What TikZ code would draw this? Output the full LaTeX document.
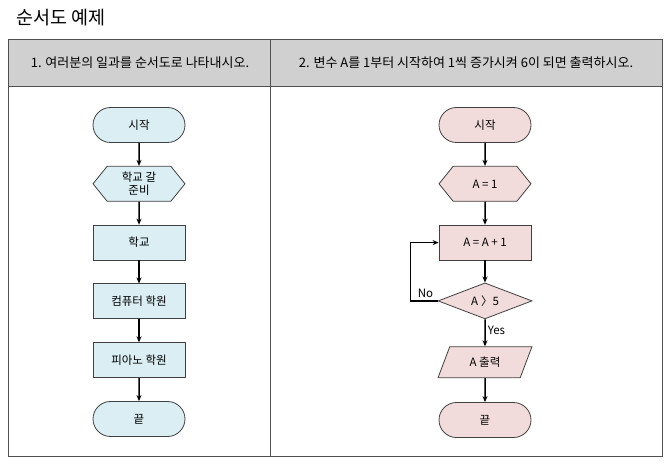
\documentclass[tikz,border=0pt]{standalone}
\usepackage{fontspec}
\setmainfont{Noto Sans CJK KR}
\usetikzlibrary{positioning,shapes.geometric,shapes.misc,shapes.symbols,arrows.meta}

\definecolor{bluefill}{HTML}{DAEEF3}
\definecolor{pinkfill}{HTML}{F2DCDB}
\definecolor{headgray}{HTML}{D0D0D0}
\definecolor{gridline}{HTML}{505050}
\definecolor{shapeline}{HTML}{404040}

\tikzset{
  box/.style={draw=shapeline, line width=0.8pt, inner sep=0pt, align=center,
    font=\fontsize{11.5}{13.5}\selectfont, minimum width=92pt, minimum height=35pt},
  term/.style={box, rounded rectangle},
  prep/.style={box, signal, signal to=east and west, signal pointer angle=102},
  proc/.style={box, rectangle},
  decis/.style={box, diamond, aspect=2.6, minimum width=94pt, minimum height=36pt},
  io/.style={box, trapezium, trapezium left angle=64, trapezium right angle=116,
    trapezium stretches=true, minimum width=94pt, minimum height=31pt},
  arr/.style={-{Stealth[length=6pt,width=5pt]}, line width=1.5pt},
  lbl/.style={font=\fontsize{11.5}{13.5}\selectfont, inner sep=2pt},
  headlbl/.style={font=\fontsize{13}{15}\selectfont, inner sep=0pt}
}

\begin{document}
\begin{tikzpicture}[x=1pt, y=-1pt, node distance=23pt]
    \useasboundingbox (0,0) rectangle (670,465);

    % title and table
    \node[anchor=west, font=\fontsize{18.5}{20}\selectfont, inner sep=0pt] (title) at (16,18) {순서도 예제};
    \fill[headgray] (8,40) rectangle (662,87);
    \draw[gridline, line width=1pt] (8,40) rectangle (662,456);
    \draw[gridline, line width=1pt] (8,87) -- (662,87);
    \draw[gridline, line width=1pt] (270,40) -- (270,456);
    \node[headlbl] (head1) at (140,63) {1. 여러분의 일과를 순서도로 나타내시오.};
    \node[headlbl] (head2) at (466,63) {2. 변수 A를 1부터 시작하여 1씩 증가시켜 6이 되면 출력하시오.};

    % left chart
    \node[term, fill=bluefill] (start1) at (139,125) {시작};
    \node[prep, fill=bluefill, below=of start1] (ready) {학교 갈\\준비};
    \node[proc, fill=bluefill, below=of ready] (school) {학교};
    \node[proc, fill=bluefill, below=of school] (comp) {컴퓨터 학원};
    \node[proc, fill=bluefill, below=of comp] (piano) {피아노 학원};
    \node[term, fill=bluefill, below=of piano] (end1) {끝};

    \draw[arr] (start1) -- (ready);
    \draw[arr] (ready) -- (school);
    \draw[arr] (school) -- (comp);
    \draw[arr] (comp) -- (piano);
    \draw[arr] (piano) -- (end1);

    % right chart
    \node[term, fill=pinkfill] (start2) at (485,125) {시작};
    \node[prep, fill=pinkfill, below=of start2] (init) {A = 1};
    \node[proc, fill=pinkfill, below=of init] (incr) {A = A + 1};
    \node[decis, fill=pinkfill, below=22pt of incr] (check) {A\hspace{3pt}〉5};
    \node[io, fill=pinkfill, below=27pt of check] (out) {A 출력};
    \node[term, fill=pinkfill, below=24pt of out] (end2) {끝};

    \draw[arr] (start2) -- (init);
    \draw[arr] (init) -- (incr);
    \draw[arr] (incr) -- (check);
    \draw[arr] (check) -- node[lbl, right, pos=0.4] {Yes} (out);
    \draw[arr] (out) -- (end2);
    \draw[arr] (check.west) -- node[lbl, above, pos=0.45] {No} ++(-27,0) |- (incr.west);
\end{tikzpicture}
\end{document}
